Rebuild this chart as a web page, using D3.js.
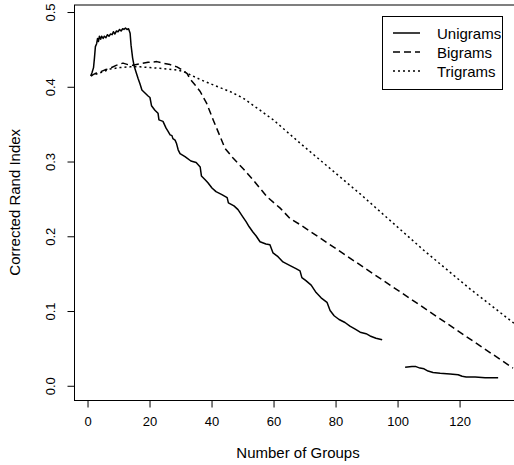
<!DOCTYPE html>
<html lang="en">
  <head>
    <meta charset="UTF-8">
    <title>Corrected Rand Index by Number of Groups</title>
    <style>
      body {
        margin: 0;
        background: #fff;
      }

      svg text {
        font-family: 'Liberation Sans', Arial, Helvetica, sans-serif;
        fill: #000;
      }
    </style>
  </head>
  <body>
    <div id="chart"></div>

    <script src="https://d3js.org/d3.v7.min.js"></script>
    <script>
      // [number of groups, corrected Rand index]; null marks the gap in the unigram curve
      const unigrams = [
        [1.2, 0.414], [1.6, 0.418], [2.1, 0.425], [2.4, 0.438], [2.7, 0.453], [3.1, 0.457],
        [3.4, 0.464], [3.7, 0.460], [4.0, 0.467], [4.4, 0.463], [4.7, 0.467], [5.2, 0.464],
        [5.6, 0.467], [6.1, 0.465], [6.6, 0.469], [7.1, 0.467], [7.6, 0.470], [8.1, 0.469],
        [8.5, 0.473], [9.0, 0.470], [9.5, 0.474], [10.0, 0.473], [10.5, 0.476], [11.0, 0.474],
        [11.5, 0.477], [11.9, 0.476], [12.4, 0.478], [12.9, 0.476], [13.4, 0.477], [13.9, 0.471],
        [14.2, 0.455], [14.7, 0.438], [15.2, 0.427], [15.8, 0.419], [16.5, 0.410], [17.1, 0.403],
        [17.7, 0.395], [18.7, 0.391], [19.7, 0.387], [20.3, 0.385], [20.8, 0.374], [21.9, 0.368],
        [22.9, 0.364], [23.2, 0.355], [24.5, 0.353], [25.5, 0.344], [26.1, 0.340], [26.8, 0.335],
        [27.4, 0.334], [27.7, 0.330], [28.4, 0.328], [28.9, 0.323], [29.4, 0.315], [30.0, 0.310],
        [31.6, 0.306], [33.5, 0.300], [35.2, 0.298], [36.5, 0.292], [36.9, 0.280], [38.1, 0.275],
        [39.0, 0.271], [40.3, 0.264], [41.6, 0.259], [43.5, 0.255], [45.2, 0.251], [45.6, 0.244],
        [47.4, 0.240], [48.7, 0.235], [50.3, 0.225], [51.3, 0.219], [52.3, 0.212], [53.5, 0.205],
        [54.5, 0.200], [55.8, 0.192], [57.7, 0.189], [59.0, 0.188], [60.0, 0.177], [61.6, 0.172],
        [63.2, 0.165], [65.5, 0.160], [67.4, 0.156], [68.7, 0.153], [69.3, 0.144], [70.6, 0.140],
        [72.3, 0.134], [73.9, 0.124], [75.5, 0.117], [77.4, 0.111], [78.4, 0.100], [79.7, 0.093],
        [81.3, 0.088], [83.2, 0.084], [84.8, 0.079], [86.5, 0.075], [88.1, 0.071], [90.0, 0.069],
        [91.3, 0.066], [93.2, 0.063], [95.2, 0.061], [99.0, null],
        [102.6, 0.024], [104.8, 0.025], [106.1, 0.025], [107.4, 0.023], [108.7, 0.022],
        [110.0, 0.019], [111.6, 0.017], [113.9, 0.016], [117.1, 0.015], [119.7, 0.014],
        [121.0, 0.012], [122.3, 0.011], [125.2, 0.011], [128.4, 0.010], [130.6, 0.010], [132.6, 0.010]
      ];

      const bigrams = [
        [1.2, 0.414], [2.6, 0.417], [4.2, 0.419], [5.8, 0.422], [7.4, 0.424], [9.4, 0.428],
        [11.6, 0.431], [13.2, 0.429], [14.8, 0.428], [17.1, 0.430], [19.7, 0.432], [22.5, 0.433],
        [24.5, 0.431], [26.8, 0.429], [29.0, 0.426], [31.0, 0.421], [32.3, 0.417], [33.2, 0.410],
        [34.8, 0.402], [36.5, 0.393], [38.6, 0.377], [40.7, 0.355], [42.9, 0.333], [44.5, 0.317],
        [47.1, 0.304], [50.3, 0.290], [53.5, 0.275], [58.1, 0.252], [62.3, 0.237], [65.5, 0.223],
        [68.7, 0.215], [101.0, 0.125], [137.4, 0.023]
      ];

      const trigrams = [
        [1.2, 0.414], [4.2, 0.418], [7.4, 0.423], [10.6, 0.425], [13.9, 0.426], [17.1, 0.426],
        [20.3, 0.425], [23.5, 0.424], [28.4, 0.422], [31.0, 0.420], [36.5, 0.409], [41.8, 0.400],
        [46.1, 0.393], [50.4, 0.384], [55.8, 0.368], [60.1, 0.355], [68.7, 0.324], [88.1, 0.256],
        [108.5, 0.181], [123.5, 0.129], [137.7, 0.083]
      ];

      const xTicks = [0, 20, 40, 60, 80, 100, 120];
      const yTicks = [0.0, 0.1, 0.2, 0.3, 0.4, 0.5];
      const seriesNames = ['Unigrams', 'Bigrams', 'Trigrams'];
      const seriesDash = ['none', '7,4', '2,3'];

      const width = 514;
      const height = 465;
      const plot = { left: 74, top: 4.5, right: 522, bottom: 400 };

      const x = d3.scaleLinear().domain([-4.2, 140.3]).range([plot.left, plot.right]);
      const y = d3.scaleLinear().domain([-0.0197, 0.5094]).range([plot.bottom, plot.top]);

      const svg = d3.select('#chart').append('svg')
        .attr('width', width)
        .attr('height', height)
        .style('display', 'block');

      svg.append('clipPath')
        .attr('id', 'plot-clip')
        .append('rect')
        .attr('x', plot.left)
        .attr('y', plot.top)
        .attr('width', plot.right - plot.left)
        .attr('height', plot.bottom - plot.top);

      // frame around the plot region
      svg.append('rect')
        .attr('x', plot.left + 0.5)
        .attr('y', plot.top + 0.5)
        .attr('width', plot.right - plot.left)
        .attr('height', plot.bottom - plot.top)
        .attr('fill', 'none')
        .attr('stroke', '#000')
        .attr('stroke-width', 1);

      const xAxis = svg.append('g')
        .attr('transform', `translate(0.5, ${plot.bottom + 0.5})`)
        .call(d3.axisBottom(x).tickValues(xTicks).tickSize(7).tickSizeOuter(0).tickPadding(9));

      const yAxis = svg.append('g')
        .attr('transform', `translate(${plot.left + 0.5}, 0.5)`)
        .call(d3.axisLeft(y).tickValues(yTicks).tickFormat(d3.format('.1f')).tickSize(7).tickSizeOuter(0));

      [xAxis, yAxis].forEach(g => {
        g.select('.domain').remove();
        g.selectAll('.tick line').attr('stroke', '#000');
        g.selectAll('.tick text')
          .style('font-size', '13px')
          .style('font-family', "'Liberation Sans', Arial, Helvetica, sans-serif");
      });

      // axis lines from first to last tick, like base R graphics
      svg.append('line')
        .attr('x1', x(xTicks[0]) + 0.5).attr('x2', x(xTicks[xTicks.length - 1]) + 0.5)
        .attr('y1', plot.bottom + 0.5).attr('y2', plot.bottom + 0.5)
        .attr('stroke', '#000');

      // y tick labels run parallel to the axis
      yAxis.selectAll('.tick text')
        .attr('x', 0)
        .attr('dy', null)
        .attr('text-anchor', 'middle')
        .attr('dominant-baseline', 'central')
        .attr('transform', 'translate(-24, 0) rotate(-90)');

      svg.append('text')
        .attr('x', (plot.left + plot.right) / 2)
        .attr('y', 452)
        .attr('text-anchor', 'middle')
        .attr('dominant-baseline', 'central')
        .style('font-size', '15px')
        .text('Number of Groups');

      svg.append('text')
        .attr('transform', `translate(14, ${(plot.top + plot.bottom) / 2}) rotate(-90)`)
        .attr('text-anchor', 'middle')
        .attr('dominant-baseline', 'central')
        .style('font-size', '15px')
        .text('Corrected Rand Index');

      const line = d3.line()
        .defined(d => d[1] !== null)
        .x(d => x(d[0]))
        .y(d => y(d[1]));

      const lines = svg.append('g').attr('clip-path', 'url(#plot-clip)');

      [unigrams, bigrams, trigrams].forEach((data, i) => {
        lines.append('path')
          .datum(data)
          .attr('d', line)
          .attr('fill', 'none')
          .attr('stroke', '#000')
          .attr('stroke-width', 1.5)
          .attr('stroke-dasharray', seriesDash[i])
          .attr('stroke-linejoin', 'round');
      });

      // legend
      const legend = svg.append('g');

      legend.append('rect')
        .attr('x', 382.5)
        .attr('y', 16.5)
        .attr('width', 120)
        .attr('height', 73)
        .attr('fill', '#fff')
        .attr('stroke', '#000');

      seriesNames.forEach((name, i) => {
        const ly = 33 + i * 19;

        legend.append('line')
          .attr('x1', 393).attr('x2', 420)
          .attr('y1', ly).attr('y2', ly)
          .attr('stroke', '#000')
          .attr('stroke-width', 1.5)
          .attr('stroke-dasharray', seriesDash[i]);

        legend.append('text')
          .attr('x', 437)
          .attr('y', ly)
          .attr('dominant-baseline', 'central')
          .style('font-size', '15px')
          .text(name);
      });
    </script>
  </body>
</html>
